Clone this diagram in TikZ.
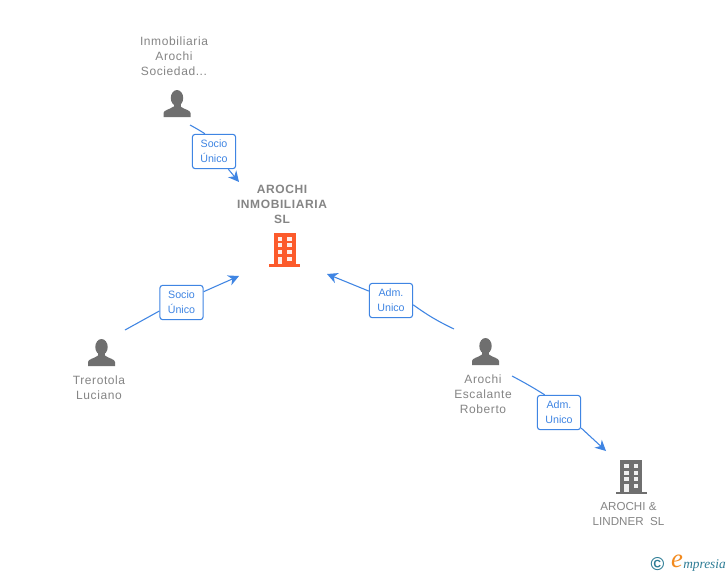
\documentclass[tikz,border=0pt]{standalone}
\usepackage{fontspec}
\setmainfont{Liberation Sans}
\newfontfamily\spacedfont[LetterSpace=5]{Liberation Sans}
\newfontfamily\logofont{Liberation Serif}
\usetikzlibrary{arrows.meta}
\definecolor{linkblue}{HTML}{3F85E3}
\definecolor{icongrey}{HTML}{6F6F6F}
\definecolor{textgrey}{HTML}{858585}
\definecolor{orangered}{HTML}{FC5A2B}
\definecolor{logoteal}{HTML}{2E7D96}
\definecolor{logoorange}{HTML}{F28A1E}
\tikzset{
  x=0.75pt,y=-0.75pt,
  namelabel/.style={text=textgrey,font=\spacedfont\fontsize{9}{11.25}\selectfont,align=center,inner sep=0pt},
  capslabel/.style={text=textgrey,font=\fontsize{8.7}{11.25}\selectfont,align=center,inner sep=0pt},
  titlelabel/.style={text=textgrey,font=\spacedfont\fontsize{9}{11.25}\selectfont\bfseries,align=center,inner sep=0pt},
  linkbox/.style={draw=linkblue,line width=0.8pt,fill=white,rounded corners=2.2pt,minimum width=32.5pt,minimum height=25.8pt,inner sep=0pt,text=linkblue,font=\fontsize{8}{11.25}\selectfont,align=center},
  link/.style={draw=linkblue,line width=0.8pt},
  linkarrow/.style={link,-{Stealth[length=8pt,width=8pt,inset=2.5pt]}},
  iconspot/.style={inner sep=0pt,minimum width=20pt,minimum height=24pt},
  personicon/.pic={
    \fill[icongrey] (0,-5.5) ellipse[x radius=6.2,y radius=8];
    \fill[icongrey] (-3.5,-2) rectangle (3.5,6);
    \fill[icongrey] (-13.5,13.5) -- (-13.5,9.5) .. controls (-13.5,6.5) and (-7,6) .. (-3.5,3) -- (3.5,3) .. controls (7,6) and (13.5,6.5) .. (13.5,9.5) -- (13.5,13.5) -- cycle;
  },
  pics/buildingicon/.style={code={
    \fill[#1] (-11,-17) rectangle (11,15);
    \fill[#1] (-15.5,14.5) -- (15.5,14.5) -- (15.5,17) -- (-15.5,17) -- cycle;
    \foreach \yy in {-13,-6.3,0.4} {
      \fill[white,opacity=.9] (-7,\yy) rectangle (-2.5,{\yy+3.9});
      \fill[white,opacity=.9] (2.5,\yy) rectangle (7,{\yy+3.9});
    }
    \fill[white,opacity=.9] (-7,7) rectangle (-2.5,14.5);
    \fill[white,opacity=.9] (2.5,7) rectangle (7,10.9);
  }},
}
\begin{document}
\begin{tikzpicture}
\useasboundingbox (0,0) rectangle (728,575);
\fill[white] (0,0) rectangle (728,575);

% icons
\node[iconspot] (inmo) at (177,103.5) {};
\pic at (inmo) {personicon};
\node[iconspot] (trer) at (101.5,352.5) {};
\pic at (trer) {personicon};
\node[iconspot] (robe) at (485.5,351.5) {};
\pic at (robe) {personicon};
\node[iconspot] (main) at (284.5,249.7) {};
\pic at (main) {buildingicon=orangered};
\node[iconspot] (lind) at (631,477) {};
\pic at (lind) {buildingicon=icongrey};

% texts
\node[namelabel] (inmotext) at (174,56) {Inmobiliaria\\Arochi\\Sociedad...};
\node[titlelabel] (maintext) at (282,204) {AROCHI\\INMOBILIARIA\\SL};
\node[namelabel] (trertext) at (99,387.5) {Trerotola\\Luciano};
\node[namelabel] (robetext) at (483,394) {Arochi\\Escalante\\Roberto};
\node[capslabel] (lindtext) at (628.5,513.5) {AROCHI \&\\LINDNER\ \ SL};

% edge labels
\node[linkbox] (l1) at (214,151.5) {Socio\\Único};
\node[linkbox] (l2) at (181.5,302.5) {Socio\\Único};
\node[linkbox] (l3) at (391,300.5) {Adm.\\Unico};
\node[linkbox] (l4) at (559,412.5) {Adm.\\Unico};

% free ends
\coordinate (s1) at (190,125);
\coordinate (e1) at (239,182);
\coordinate (s2) at (125,330);
\coordinate (e2) at (239,276);
\coordinate (s3) at (454,329);
\coordinate (e3) at (327,274);
\coordinate (s4) at (512,376);
\coordinate (e4) at (606,451);

% connectors
\draw[link] (s1) to[bend left=2] (l1.117);
\draw[linkarrow] (l1.-51) -- (e1);
\draw[link] (s2) -- (l2.201.6);
\draw[linkarrow] (l2.26) -- (e2);
\draw[link] (s3) to[bend left=5] (l3.-11.6);
\draw[linkarrow] (l3.157) -- (e3);
\draw[link] (s4) to[bend left=2] (l4.129);
\draw[linkarrow] (l4.-35) -- (e4);

% logo
\node[inner sep=0pt,text=logoteal,font=\fontsize{14}{14}\selectfont\bfseries] (copy) at (657.5,564) {©};
\node[inner sep=0pt,text=logoorange,font=\logofont\itshape\fontsize{20}{20}\selectfont] (loge) at (677,561.5) {e};
\node[inner sep=0pt,anchor=west,text=logoteal,font=\logofont\itshape\fontsize{10}{10}\selectfont] (logt) at (683,565) {mpresia};
\end{tikzpicture}
\end{document}
